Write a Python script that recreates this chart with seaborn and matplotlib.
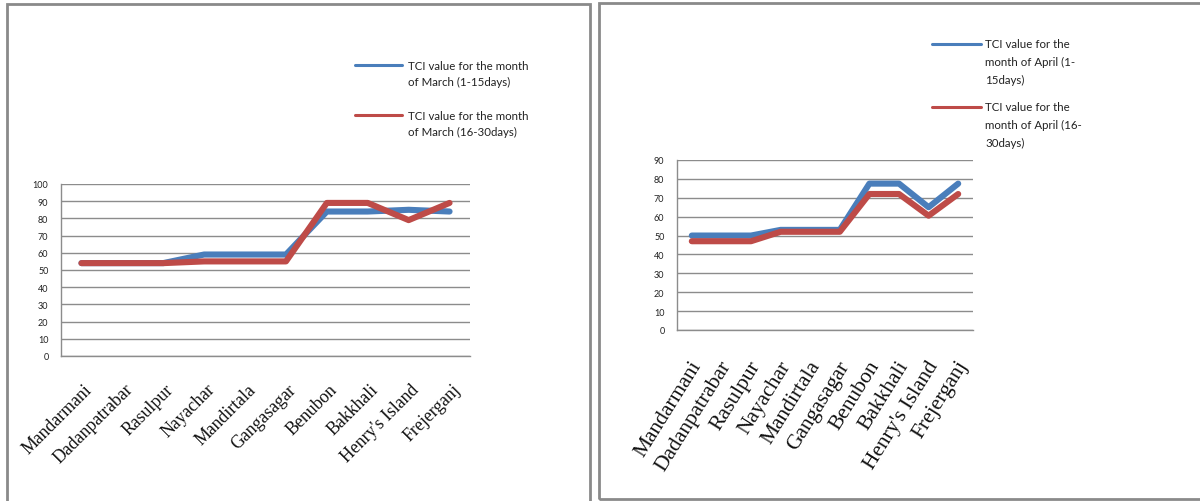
import numpy as np
import pandas as pd
import matplotlib
matplotlib.use("Agg")
import matplotlib.pyplot as plt
import matplotlib.transforms as mtrans
from matplotlib.lines import Line2D
from matplotlib.patches import Rectangle
import seaborn as sns

# Sites along the coast
sites = ["Mandarmani", "Dadanpatrabar", "Rasulpur", "Nayachar", "Mandirtala",
         "Gangasagar", "Benubon", "Bakkhali", "Henry's Island", "Frejerganj"]

# TCI values, March
march_first = [54, 54, 54, 59, 59, 59, 84, 84, 85, 84]
march_second = [54, 54, 54, 55, 55, 55, 89, 89, 79, 89]

# TCI values, April
april_first = [50, 50, 50, 53, 53, 53, 77.5, 77.5, 65, 77.5]
april_second = [47, 47, 47, 52, 52, 52, 72, 72, 60.5, 72]

march_labels = ["TCI value for the month\nof March (1-15days)",
                "TCI value for the month\nof March (16-30days)"]
april_labels = ["TCI value for the\nmonth of April (1-\n15days)",
                "TCI value for the\nmonth of April (16-\n30days)"]

BLUE = "#4a7ebb"
RED = "#be4b48"
GRID = "#8c8c8c"

sns.set_theme(style="white")
plt.rcParams["font.family"] = ["Lato", "DejaVu Sans"]

W, H = 1200, 502
fig = plt.figure(figsize=(W / 100, H / 100), dpi=100)


def px_axes(x0, x1, y_top, y_bot):
    return fig.add_axes([x0 / W, (H - y_bot) / H, (x1 - x0) / W, (y_bot - y_top) / H])


def long_frame(first, second, labels):
    n = len(sites)
    return pd.DataFrame({
        "pos": list(range(n)) * 2,
        "value": list(first) + list(second),
        "series": [labels[0]] * n + [labels[1]] * n,
    })


def draw_panel(ax, first, second, labels, ymax, rot, fsize, dx, pad):
    df = long_frame(first, second, labels)
    sns.lineplot(data=df, x="pos", y="value", hue="series",
                 palette=[BLUE, RED], linewidth=4.4, legend=False, ax=ax,
                 solid_capstyle="round", solid_joinstyle="round")
    n = len(sites)
    ax.set_xlim(-0.5, n - 0.5)
    ax.set_ylim(0, ymax)
    ax.set_yticks(np.arange(0, ymax + 1, 10))
    ax.yaxis.grid(True, color=GRID, linewidth=1.0)
    ax.set_axisbelow(True)
    for s in ("top", "right"):
        ax.spines[s].set_visible(False)
    for s in ("left", "bottom"):
        ax.spines[s].set_color(GRID)
        ax.spines[s].set_linewidth(1.0)
    ax.set_xlabel("")
    ax.set_ylabel("")
    # boundary tick marks and centred category labels
    ax.set_xticks(np.arange(-0.5, n, 1.0))
    ax.set_xticklabels([])
    ax.set_xticks(np.arange(n), minor=True)
    ax.set_xticklabels(sites, minor=True, rotation=rot, ha="right",
                       rotation_mode="anchor", va="center",
                       fontsize=fsize, family="Liberation Serif", color="#111111")
    ax.tick_params(axis="x", which="major", length=4, width=1, color=GRID, direction="out")
    ax.tick_params(axis="x", which="minor", length=0, pad=pad)
    ax.tick_params(axis="y", length=3, width=1, color=GRID, labelsize=6.5,
                   labelcolor="#222222", pad=6)
    offset = mtrans.ScaledTranslation(dx / 100, 0, fig.dpi_scale_trans)
    for lab in ax.get_xticklabels(minor=True):
        lab.set_transform(lab.get_transform() + offset)


def manual_legend(x_line0, x_line1, x_text, ys, labels, line_gap, top_shift):
    for y, lab, col in zip(ys, labels, [BLUE, RED]):
        fig.add_artist(Line2D([x_line0 / W, x_line1 / W], [(H - y) / H] * 2,
                              color=col, linewidth=2.2, transform=fig.transFigure))
        fig.text(x_text / W, (H - y + top_shift) / H, lab, ha="left", va="top",
                 fontsize=8.3, color="#222222", linespacing=line_gap,
                 transform=fig.transFigure)


# Panel frames
fig.add_artist(Rectangle((7 / W, -0.05), (590 - 7) / W, (H - 5) / H + 0.05,
                         transform=fig.transFigure, fill=False,
                         edgecolor="#8a8a8a", linewidth=2.0))
fig.add_artist(Rectangle((599 / W, 2 / H), (W - 599) / W + 0.05, (500 - 4) / H,
                         transform=fig.transFigure, fill=False,
                         edgecolor="#8a8a8a", linewidth=2.0))

ax1 = px_axes(61, 470, 185, 357)
draw_panel(ax1, march_first, march_second, march_labels, 100, 45, 12.8, 8, 22)
manual_legend(355, 402, 408, [66, 116], march_labels, 1.5, 5)

ax2 = px_axes(677, 973, 161, 331)
draw_panel(ax2, april_first, april_second, april_labels, 90, 58, 15.5, 6, 23)
manual_legend(932, 981, 985, [45, 108], april_labels, 1.75, 6)

fig.savefig("out.png", dpi=100, facecolor="white")
